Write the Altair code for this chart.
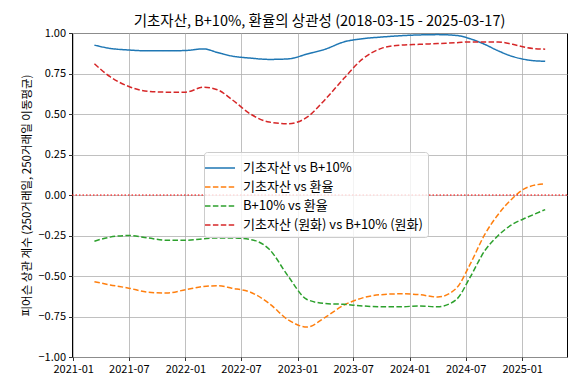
import altair as alt
import pandas as pd

font = "Noto Sans CJK KR"

dates = ["2021-03-11", "2021-05-01", "2021-07-01", "2021-09-01", "2021-11-01",
         "2022-01-01", "2022-03-01", "2022-04-15", "2022-06-01", "2022-08-01",
         "2022-10-01", "2022-12-01", "2023-02-01", "2023-04-01", "2023-06-01",
         "2023-08-01", "2023-10-01", "2023-12-01", "2024-02-01", "2024-04-01",
         "2024-06-01", "2024-07-15", "2024-09-01", "2024-10-15", "2024-12-01",
         "2025-01-15", "2025-03-17"]

base_vs_b10 = [0.925, 0.905, 0.895, 0.89, 0.89, 0.892, 0.902, 0.88, 0.858, 0.845,
               0.837, 0.84, 0.87, 0.90, 0.945, 0.965, 0.975, 0.983, 0.988, 0.99,
               0.985, 0.965, 0.93, 0.89, 0.855, 0.835, 0.825]
base_vs_fx = [-0.535, -0.555, -0.575, -0.60, -0.605, -0.585, -0.565, -0.56, -0.575, -0.60,
              -0.67, -0.77, -0.815, -0.755, -0.68, -0.635, -0.615, -0.61, -0.615, -0.63,
              -0.575, -0.43, -0.245, -0.12, -0.02, 0.045, 0.07]
b10_vs_fx = [-0.285, -0.26, -0.25, -0.265, -0.28, -0.28, -0.27, -0.265, -0.265, -0.275,
             -0.335, -0.50, -0.645, -0.67, -0.675, -0.685, -0.69, -0.69, -0.685, -0.69,
             -0.645, -0.51, -0.345, -0.25, -0.18, -0.14, -0.09]
krw_base_vs_b10 = [0.81, 0.73, 0.67, 0.64, 0.635, 0.635, 0.665, 0.65, 0.59, 0.50,
                   0.45, 0.44, 0.48, 0.59, 0.72, 0.84, 0.905, 0.925, 0.93, 0.935,
                   0.94, 0.945, 0.945, 0.945, 0.93, 0.91, 0.90]

labels = ["기초자산 vs B+10%", "기초자산 vs 환율", "B+10% vs 환율",
          "기초자산 (원화) vs B+10% (원화)"]
colors = ["#1f77b4", "#ff7f0e", "#2ca02c", "#d62728"]
dashes = [[1, 0], [5.5, 2.4], [5.5, 2.4], [5.5, 2.4]]

y_ticks = [-1.0, -0.75, -0.5, -0.25, 0.0, 0.25, 0.5, 0.75, 1.0]
x_tick_months = [(2021, 1), (2021, 7), (2022, 1), (2022, 7), (2023, 1),
                 (2023, 7), (2024, 1), (2024, 7), (2025, 1)]

rows = []
for lab, vals in zip(labels, [base_vs_b10, base_vs_fx, b10_vs_fx, krw_base_vs_b10]):
    for d, v in zip(dates, vals):
        rows.append({"date": d + "T00:00:00", "series": lab, "value": v})
df = pd.DataFrame(rows)

x_enc = alt.X(
    "date:T",
    scale=alt.Scale(domain=[alt.DateTime(year=2020, month=12, date=28),
                            alt.DateTime(year=2025, month=5, date=27)], nice=False),
    axis=alt.Axis(values=[alt.DateTime(year=y, month=m, date=1) for y, m in x_tick_months],
                  format="%Y-%m", title=None, labelOverlap=False),
)
y_enc = alt.Y(
    "value:Q",
    scale=alt.Scale(domain=[-1, 1], nice=False, zero=False),
    axis=alt.Axis(values=y_ticks, format=".2f",
                  title="피어슨 상관 계수 (250거래일, 250거래일 이동평균)", titlePadding=6,
                  titleFontSize=11.5),
)

legend = alt.Legend(
    title=None, orient="none", legendX=132, legendY=119, direction="vertical",
    fillColor="rgba(255,255,255,0.8)", strokeColor="#cccccc", cornerRadius=3,
    padding=5, symbolType="M-1.5,0L1.5,0", symbolSize=400, symbolStrokeWidth=1.5,
    labelFont=font, labelFontSize=13, labelColor="black", labelOffset=12,
    rowPadding=1, labelLimit=300,
)

lines = alt.Chart(df).mark_line(strokeWidth=1.5, interpolate="monotone").encode(
    x=x_enc,
    y=y_enc,
    color=alt.Color("series:N", scale=alt.Scale(domain=labels, range=colors), legend=legend),
    strokeDash=alt.StrokeDash("series:N", scale=alt.Scale(domain=labels, range=dashes), legend=legend),
)

zero = alt.Chart(pd.DataFrame({"y": [0.0]})).mark_rule(
    color="red", strokeDash=[1.5, 2], strokeWidth=1.2
).encode(y="y:Q")

chart = alt.layer(lines, zero).properties(
    width=495, height=324,
    title=alt.TitleParams(
        "기초자산, B+10%, 환율의 상관성 (2018-03-15 - 2025-03-17)",
        offset=0, dy=2,
    ),
    autosize=alt.AutoSizeParams(type="none"),
    padding={"left": 64, "top": 25, "right": 1, "bottom": 25},
).configure_view(
    stroke="black", strokeWidth=1
).configure_axis(
    grid=True, gridColor="#b0b0b0", gridWidth=0.8, domain=False,
    tickColor="black", tickSize=3.5, tickWidth=0.8,
    labelFont=font, labelFontSize=11, labelColor="black", labelPadding=3,
    titleFont=font, titleFontSize=12, titleColor="black", titleFontWeight="normal",
).configure_title(
    font=font, fontSize=14.5, fontWeight="normal", color="black", anchor="middle"
)

chart.save("out.html", embed_options={"renderer": "svg", "actions": False})
